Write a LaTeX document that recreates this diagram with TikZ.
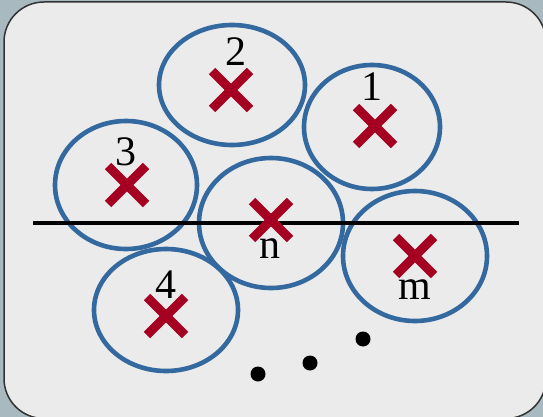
\documentclass[tikz,border=0pt]{standalone}
\usepackage{fontspec}
\setmainfont{Liberation Serif}
\definecolor{outerbg}{HTML}{A8B9C0}
\definecolor{innerbg}{HTML}{EBEBEB}
\definecolor{ringblue}{HTML}{3469A0}
\definecolor{crossred}{HTML}{A50021}
\tikzset{
  ring/.style={draw=ringblue, line width=4.6pt},
  crossline/.style={draw=crossred, line width=9pt},
  lbl/.style={inner sep=0pt, font=\fontsize{42}{42}\selectfont},
  dotmark/.style={circle, fill=black, inner sep=0pt, minimum size=15pt},
}
\begin{document}
\begin{tikzpicture}[x=1pt,y=-1pt]
\useasboundingbox (0,0) rectangle (543,417);
\fill[outerbg] (0,0) rectangle (543,417);
\begin{scope}
\clip (0,0) rectangle (543,417);
\draw[fill=innerbg, draw=black!80, line width=1.5pt, rounded corners=40pt] (4,2) rectangle (546,418.5);
\end{scope}
% rings
\draw[ring] (232,85) ellipse [x radius=73, y radius=60];
\draw[ring] (372,127) ellipse [x radius=68, y radius=62];
\draw[ring] (126,185) ellipse [x radius=71, y radius=64];
\draw[ring] (271,223) ellipse [x radius=72, y radius=65];
\draw[ring] (415,256) ellipse [x radius=72, y radius=65];
\draw[ring] (166,310) ellipse [x radius=72, y radius=61];
% horizontal line
\coordinate (lineL) at (33,223);
\coordinate (lineR) at (519,223);
\draw[black, line width=4.5pt] (lineL) -- (lineR);
% crosses
\foreach \n/\x/\y in {c2/231/90, c1/375/126, c3/127/185, cn/271/220, cm/415/256, c4/166/316}{
  \coordinate (\n) at (\x,\y);
  \draw[crossline] ([shift={(-19,-19)}]\n) -- ([shift={(19,19)}]\n);
  \draw[crossline] ([shift={(-19,19)}]\n) -- ([shift={(19,-19)}]\n);
}
% labels
\node[lbl] (l2) at (236,52) {2};
\node[lbl] (l1) at (372,87) {1};
\node[lbl] (l3) at (126,152) {3};
\node[lbl] (ln) at (270,249) {n};
\node[lbl] (lm) at (415,290) {m};
\node[lbl] (l4) at (166,285) {4};
% dots
\node[dotmark] (d1) at (258,374) {};
\node[dotmark] (d2) at (310,363) {};
\node[dotmark] (d3) at (363,339) {};
\end{tikzpicture}
\end{document}
